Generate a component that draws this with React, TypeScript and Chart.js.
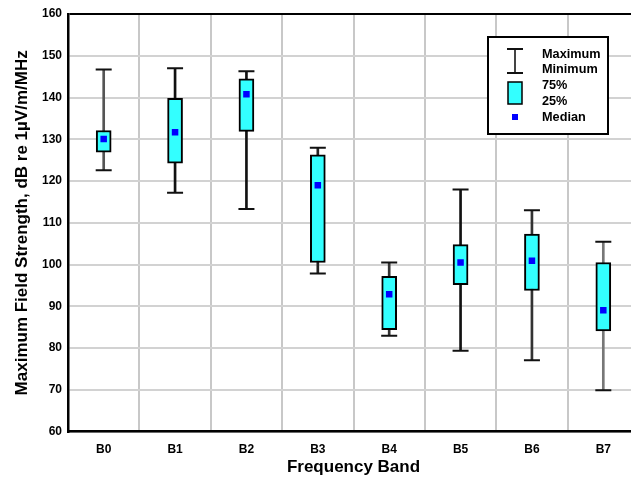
import { useEffect, useRef } from 'react';
import { Chart, registerables } from 'chart.js';

Chart.register(...registerables);

const categories = ['B0', 'B1', 'B2', 'B3', 'B4', 'B5', 'B6', 'B7'];
const maxVals = [146.7, 147.0, 146.3, 128.0, 100.5, 118.0, 113.0, 105.5];
const q3Vals = [132.1, 139.8, 144.5, 126.3, 97.2, 104.8, 107.3, 100.5];
const medianVals = [130.1, 131.7, 140.8, 119.0, 92.9, 100.5, 100.9, 89.1];
const q1Vals = [126.9, 124.3, 131.9, 100.5, 84.4, 95.2, 93.8, 84.1];
const minVals = [122.6, 117.2, 113.3, 97.9, 83.0, 79.4, 77.1, 69.9];
const yTickMin = 60;
const yTickMax = 160;
const yTickStep = 10;

const FONT = '"Liberation Sans", Arial, Helvetica, sans-serif';
const whiskerColors = ['#555', '#111', '#111', '#222', '#333', '#111', '#333', '#777'];

const legendPlugin = {
  id: 'boxLegend',
  afterDraw(chart: any) {
    const ctx = chart.ctx as CanvasRenderingContext2D;
    ctx.save();
    // frame
    ctx.fillStyle = '#fff';
    ctx.fillRect(488, 37, 120, 97);
    ctx.strokeStyle = '#000';
    ctx.lineWidth = 2;
    ctx.strokeRect(488, 37, 120, 97);
    // whisker icon
    ctx.strokeStyle = '#444';
    ctx.lineWidth = 2;
    ctx.beginPath();
    ctx.moveTo(515, 49);
    ctx.lineTo(515, 73);
    ctx.stroke();
    ctx.strokeStyle = '#111';
    ctx.beginPath();
    ctx.moveTo(507, 49);
    ctx.lineTo(523, 49);
    ctx.moveTo(507, 73);
    ctx.lineTo(523, 73);
    ctx.stroke();
    // box icon
    ctx.fillStyle = '#33ffff';
    ctx.fillRect(508, 82, 14, 22);
    ctx.strokeStyle = '#000';
    ctx.lineWidth = 1.5;
    ctx.strokeRect(508, 82, 14, 22);
    // median icon
    ctx.fillStyle = '#0000ff';
    ctx.fillRect(512, 114, 6, 6);
    // text
    ctx.fillStyle = '#000';
    ctx.font = 'bold 12.7px ' + FONT;
    ctx.textBaseline = 'middle';
    ctx.textAlign = 'left';
    ctx.fillText('Maximum', 542, 54);
    ctx.fillText('Minimum', 542, 69.5);
    ctx.fillText('75%', 542, 85);
    ctx.fillText('25%', 542, 101);
    ctx.fillText('Median', 542, 117);
    ctx.restore();
  },
};

export default function App() {
  const ref = useRef<HTMLCanvasElement>(null);
  useEffect(() => {
    const whiskerRanges = categories.map((_, i) => [minVals[i], maxVals[i]]);
    const boxRanges = categories.map((_, i) => [q1Vals[i], q3Vals[i]]);
    const chart = new Chart(ref.current as HTMLCanvasElement, {
      type: 'bar',
      data: {
        labels: categories,
        datasets: [
          {
            type: 'line',
            label: 'Median',
            data: medianVals,
            showLine: false,
            pointStyle: 'rect',
            pointRadius: 4.6,
            pointBackgroundColor: '#0000ff',
            pointBorderWidth: 0,
            order: 0,
          } as any,
          {
            type: 'bar',
            label: 'Box',
            data: boxRanges,
            backgroundColor: '#33ffff',
            borderColor: '#000',
            borderWidth: 2,
            borderSkipped: false,
            barThickness: 15,
            grouped: false,
            order: 1,
          } as any,
          {
            type: 'line',
            label: 'Maximum',
            data: maxVals,
            showLine: false,
            pointStyle: 'line',
            pointRadius: 8,
            pointBorderWidth: 2,
            pointBorderColor: '#111',
            order: 2,
          } as any,
          {
            type: 'line',
            label: 'Minimum',
            data: minVals,
            showLine: false,
            pointStyle: 'line',
            pointRadius: 8,
            pointBorderWidth: 2,
            pointBorderColor: '#111',
            order: 2,
          } as any,
          {
            type: 'bar',
            label: 'Whisker',
            data: whiskerRanges,
            backgroundColor: whiskerColors,
            borderWidth: 0,
            barThickness: 2,
            grouped: false,
            order: 3,
          } as any,
        ],
      },
      options: {
        responsive: false,
        animation: false,
        devicePixelRatio: 1,
        layout: { padding: { top: 14, right: 21, left: 0, bottom: 0 } },
        plugins: {
          legend: { display: false },
          tooltip: { enabled: false },
        },
        scales: {
          x: {
            type: 'category',
            offset: true,
            grid: {
              offset: true,
              color: '#c8c8c8',
              lineWidth: 2,
              drawTicks: false,
            },
            border: { color: '#000', width: 2.5 },
            ticks: {
              color: '#000',
              padding: 11,
              font: { family: FONT, size: 12, weight: 'bold' },
            },
            title: {
              display: true,
              text: 'Frequency Band',
              color: '#000',
              font: { family: FONT, size: 17, weight: 'bold', lineHeight: 1.2 },
              padding: { top: 0, bottom: 0 },
            },
            afterFit(scale: any) {
              scale.height = 46.3;
            },
          },
          y: {
            type: 'linear',
            min: yTickMin,
            max: yTickMax,
            grid: {
              color: (c: any) => (c.tick && c.tick.value === yTickMax ? '#000' : '#d2d2d2'),
              lineWidth: 2,
              drawTicks: false,
            },
            border: { color: '#000', width: 2.5 },
            ticks: {
              stepSize: yTickStep,
              color: '#000',
              padding: 6,
              font: { family: FONT, size: 12, weight: 'bold' },
            },
            title: {
              display: true,
              text: 'Maximum Field Strength, dB re 1µV/m/MHz',
              color: '#000',
              font: { family: FONT, size: 17, weight: 'bold', lineHeight: 1.2 },
              padding: { top: 12, bottom: 0 },
            },
            afterFit(scale: any) {
              scale.width = 68;
            },
          },
        },
      } as any,
      plugins: [legendPlugin],
    });
    return () => chart.destroy();
  }, []);
  return (
    <div
      style={{
        position: 'fixed',
        left: 0,
        top: 0,
        width: 631,
        height: 478,
        overflow: 'hidden',
        background: '#fff',
      }}
    >
      <canvas ref={ref} width={660} height={478} style={{ display: 'block', width: 660, height: 478 }} />
    </div>
  );
}
